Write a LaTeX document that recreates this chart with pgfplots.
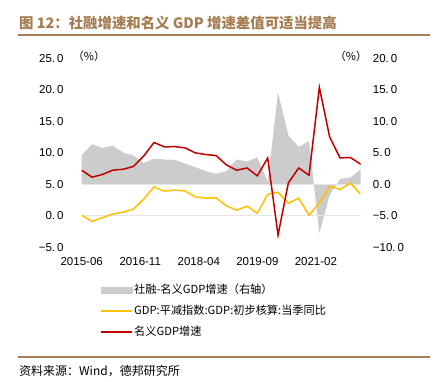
\documentclass[border=0pt]{standalone}
\usepackage{fontspec}
\setmainfont{Liberation Sans}
\newfontfamily\cjk{Noto Sans CJK SC}
\usepackage{pgfplots}
\usepackage{pgfplotstable}
\pgfplotsset{compat=1.18}
\usepgfplotslibrary{fillbetween}
\definecolor{brn}{HTML}{A67C52}
\definecolor{myred}{HTML}{C00000}
\definecolor{myyel}{HTML}{FFC000}
\definecolor{mygray}{HTML}{CCCCCC}
\definecolor{zl}{HTML}{E6E6E6}

\pgfplotstableread{
x red yel gap
0 7.25 0.10 4.63
3 6.14 -0.90 6.38
6 6.57 -0.30 5.80
9 7.25 0.27 6.17
12 7.40 0.59 5.06
15 7.84 1.06 4.58
18 9.50 2.65 3.41
21 11.65 4.60 4.10
24 10.95 3.92 3.95
27 11.00 4.08 3.90
30 10.80 3.97 3.30
33 10.00 3.00 2.73
36 9.74 2.81 2.10
39 9.58 2.86 1.67
42 8.10 1.59 2.10
45 7.25 0.90 3.95
48 7.60 1.54 3.63
51 6.35 0.43 4.30
54 9.20 3.40 0.40
57 -3.06 3.76 14.60
60 5.24 2.00 7.80
63 7.60 2.81 5.95
66 6.46 0.10 6.86
69 20.40 2.06 -7.80
72 12.50 4.70 -1.71
75 9.20 4.19 0.83
78 9.27 5.19 1.10
81 8.20 3.44 2.37
}\data

\pgfplotsset{
  base/.style={
    scale only axis, width=279pt, height=188.8pt,
    at={(81.7pt,-247.3pt)}, anchor=south west,
    xmin=0, xmax=81,
    axis line style={draw=none},
    major tick length=0pt,
    tick label style={font=\fontsize{11.5}{13}\selectfont},
  }
}

\begin{document}
\begin{tikzpicture}[x=1pt,y=1pt]
\path (0,0) rectangle (442,-382);
\node[anchor=west, inner sep=0pt, text=brn, font=\cjk\bfseries\fontsize{14.4}{16}\selectfont] at (19,-23) {图 12：社融增速和名义 GDP 增速差值可适当提高};
\draw[brn, line width=1.2pt] (18,-35) -- (430,-35);
\draw[brn, line width=1.2pt] (18,-357) -- (430,-357);
\node[anchor=west, inner sep=0pt, font=\cjk\fontsize{12}{14}\selectfont] at (19,-371.5) {资料来源：Wind，德邦研究所};
\node[font=\cjk\fontsize{11}{13}\selectfont, inner sep=0pt] at (89,-56) {（\%）};
\node[font=\cjk\fontsize{11}{13}\selectfont, inner sep=0pt] at (351,-56) {（\%）};

\begin{axis}[base,
  ymin=-10, ymax=20, ytick={-10,-5,0,5,10,15,20},
  yticklabels={−10.\kern2pt0,−5.\kern2pt0,0.\kern2pt0,5.\kern2pt0,10.\kern2pt0,15.\kern2pt0,20.\kern2pt0},
  axis y line*=right, xtick=\empty,
  yticklabel style={anchor=west, inner sep=0pt, xshift=12pt},
]
\addplot[zl, line width=1.2pt] coordinates {(0,-5) (81,-5)};
\addplot[zl, line width=1.2pt] coordinates {(0,0) (81,0)};
\addplot[name path=g, draw=none] table[x=x,y=gap]{\data};
\addplot[name path=b, draw=none] coordinates {(0,0) (81,0)};
\addplot[mygray, draw=none] fill between[of=g and b];
\end{axis}

\begin{axis}[base,
  ymin=-5, ymax=25, ytick={-5,0,5,10,15,20,25},
  yticklabels={−5.\kern2pt0,0.\kern2pt0,5.\kern2pt0,10.\kern2pt0,15.\kern2pt0,20.\kern2pt0,25.\kern2pt0},
  axis y line*=left,
  yticklabel style={anchor=east, inner sep=0pt, xshift=-18pt},
  xtick={0,17,34,51,68},
  xticklabels={2015-06,2016-11,2018-04,2019-09,2021-02},
  xticklabel style={anchor=north, inner sep=0pt, yshift=-10pt},
  legend image code/.code={\draw[#1, line width=2pt] (0pt,0pt) -- (31pt,0pt);},
  legend cell align=left,
  legend style={draw=none, fill=none, at={(0.0656,-0.19)}, anchor=north west,
    inner sep=0pt, row sep=8pt,
    font=\cjk\fontsize{11.2}{13}\selectfont,
    nodes={inner sep=1pt}},
]
\addlegendimage{legend image code/.code={\fill[mygray] (0pt,-3pt) rectangle (31pt,3pt);}}
\addlegendentry{社融-名义GDP增速（右轴）}
\addplot[myyel, line width=1.5pt] table[x=x,y=yel]{\data};
\addlegendentry{GDP:平减指数:GDP:初步核算:当季同比}
\addplot[myred, line width=1.5pt] table[x=x,y=red]{\data};
\addlegendentry{名义GDP增速}
\end{axis}
\end{tikzpicture}
\end{document}
